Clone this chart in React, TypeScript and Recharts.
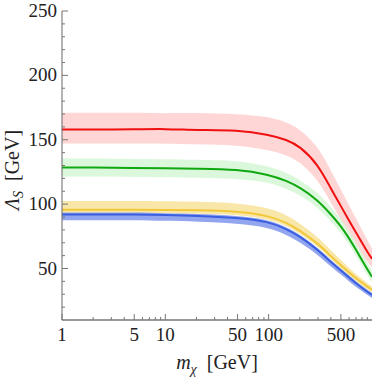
import React from "react";
import { ComposedChart, Area, Line, XAxis, YAxis } from "recharts";

// dark matter mass grid (GeV)
const masses = [1, 2, 5, 10, 20, 50, 100, 150, 200, 300, 400, 500, 600, 700, 800, 900, 1000];

const redMid = [158, 158, 158, 158.5, 157.5, 157.5, 154, 150, 145, 131, 112, 98.5, 87, 78, 70, 63, 57.5];
const redHi = [171, 171, 171, 170.5, 171, 170, 168, 163.5, 158.5, 145, 126, 111.5, 99, 89, 80, 72, 65.5];
const redLo = [147, 147, 147, 147, 146.5, 146, 142, 138, 133, 119, 101, 88, 77, 69, 61.5, 55, 51];

const greenMid = [128.5, 128.5, 128, 128, 127.5, 127, 123, 118, 113, 103, 92, 83, 73.5, 64.5, 56.5, 49.5, 43.5];
const greenHi = [135.5, 135.5, 135, 135, 134.5, 134, 129.5, 124.5, 119, 109, 98, 88.5, 79, 70, 61.5, 54.5, 48.5];
const greenLo = [121.5, 121.5, 121, 121, 120.5, 120, 117, 112, 107, 97.5, 86.5, 78, 68.5, 60, 52, 45, 39];

const yellowMid = [95.7, 95.7, 95.7, 95.5, 95.3, 94.5, 91, 85.5, 79.5, 69.5, 59.5, 52.5, 47, 42.5, 39, 36, 33.5];
const yellowHi = [102.5, 102.5, 102.5, 102.3, 102, 101, 97, 91.5, 85, 74.5, 64, 56.5, 50.5, 45.5, 42, 38.5, 36];
const yellowLo = [93, 93, 93, 92.8, 92.5, 91.8, 88.3, 83, 77, 67, 57, 50, 44.5, 40, 36.5, 33.5, 31];

const blueMid = [92, 92, 92, 91.5, 91, 89.5, 86.5, 80.5, 75, 64.5, 55, 48.5, 43, 38.5, 35, 32, 29.5];
const blueHi = [93.5, 93.5, 93.5, 93, 92.5, 91, 88, 82, 76.5, 66, 56.5, 50, 44.5, 40, 36.5, 33.5, 31];
const blueLo = [87.5, 87.5, 87.5, 87, 86.5, 85, 82, 76, 70.5, 60.5, 51.5, 45.5, 40, 35.5, 32.5, 29.5, 27];

const xMajor = [1, 5, 10, 50, 100, 500];
const xMinor = [2, 3, 4, 6, 7, 8, 9, 20, 30, 40, 60, 70, 80, 90, 200, 300, 400, 600, 700, 800, 900];
const yMajor = [50, 100, 150, 200, 250];
const yMinor = [20, 30, 40, 60, 70, 80, 90, 110, 120, 130, 140, 160, 170, 180, 190, 210, 220, 230, 240];

const data = masses.map((m, i) => ({
  m,
  red: redMid[i],
  redBand: [redLo[i], redHi[i]],
  green: greenMid[i],
  greenBand: [greenLo[i], greenHi[i]],
  yellow: yellowMid[i],
  yellowBand: [yellowLo[i], yellowHi[i]],
  blue: blueMid[i],
  blueBand: [blueLo[i], blueHi[i]],
}));

const serif = { fontFamily: "Liberation Serif" };
const TICK = "#777";

const makeTick = (side: "bottom" | "top" | "left" | "right", majors: number[], showLabel: boolean) =>
  (props: any) => {
    const { x, y, payload } = props;
    const major = majors.includes(payload.value);
    const len = major ? 6 : 3;
    let line;
    if (side === "bottom") line = <line x1={x} x2={x} y1={y} y2={y - len} stroke={TICK} />;
    else if (side === "top") line = <line x1={x} x2={x} y1={y} y2={y + len} stroke={TICK} />;
    else if (side === "left") line = <line x1={x} x2={x + len} y1={y} y2={y} stroke={TICK} />;
    else line = <line x1={x} x2={x - len} y1={y} y2={y} stroke={TICK} />;
    return (
      <g>
        {line}
        {showLabel && major && side === "bottom" && (
          <text x={x} y={y + 21} textAnchor="middle" style={serif} fontSize={19} fill="#222">
            {payload.value}
          </text>
        )}
        {showLabel && major && side === "left" && (
          <text x={x - 5} y={y + 6} textAnchor="end" style={serif} fontSize={19} fill="#222">
            {payload.value}
          </text>
        )}
      </g>
    );
  };

export default function App() {
  const xTicks = [...xMajor, ...xMinor].sort((a, b) => a - b);
  const yTicks = [...yMajor, ...yMinor].sort((a, b) => a - b);
  return (
    <div style={{ position: "absolute", left: 0, top: 0, width: 374, height: 380, background: "#fff" }}>
      <ComposedChart width={374} height={380} data={data} margin={{ top: 11, right: 2, bottom: 0, left: 0 }}>
        <XAxis
          dataKey="m"
          type="number"
          scale="log"
          domain={[1, 1000]}
          allowDataOverflow
          ticks={xTicks}
          interval={0}
          height={60}
          tickSize={0}
          tickMargin={0}
          tickLine={false}
          axisLine={{ stroke: "#333" }}
          tick={makeTick("bottom", xMajor, true)}
          label={{
            content: (p: any) => {
              const vb = p.viewBox;
              return (
                <text x={vb.x + vb.width / 2} y={vb.y + 49} textAnchor="middle" style={serif} fontSize={20} fill="#222">
                  <tspan fontStyle="italic">m</tspan>
                  <tspan fontStyle="italic" fontSize={14} dy={5}>χ</tspan>
                  <tspan dy={-5}>{"\u00a0\u00a0[GeV]"}</tspan>
                </text>
              );
            },
          }}
        />
        <XAxis
          xAxisId="top"
          orientation="top"
          dataKey="m"
          type="number"
          scale="log"
          domain={[1, 1000]}
          allowDataOverflow
          ticks={xTicks}
          interval={0}
          height={0}
          tickSize={0}
          tickMargin={0}
          tickLine={false}
          axisLine={{ stroke: "#999" }}
          tick={makeTick("top", xMajor, false)}
        />
        <YAxis
          type="number"
          domain={[10, 250]}
          allowDataOverflow
          ticks={yTicks}
          interval={0}
          width={62}
          tickSize={0}
          tickMargin={0}
          tickLine={false}
          axisLine={{ stroke: "#666" }}
          tick={makeTick("left", yMajor, true)}
          label={{
            content: () => (
              <text x={19} y={170} transform="rotate(-90, 19, 170)" textAnchor="middle" style={serif} fontSize={20} fill="#222">
                <tspan fontStyle="italic">Λ</tspan>
                <tspan fontStyle="italic" fontSize={14} dy={4}>S</tspan>
                <tspan dy={-4}>{"\u00a0\u00a0[GeV]"}</tspan>
              </text>
            ),
          }}
        />
        <YAxis
          yAxisId="right"
          orientation="right"
          type="number"
          domain={[10, 250]}
          allowDataOverflow
          ticks={yTicks}
          interval={0}
          width={0}
          tickSize={0}
          tickMargin={0}
          tickLine={false}
          axisLine={{ stroke: "#222" }}
          tick={makeTick("right", yMajor, false)}
        />
        <Area dataKey="redBand" type="basis" stroke="none" fill="#ffcfcf" fillOpacity={0.85} isAnimationActive={false} />
        <Area dataKey="greenBand" type="basis" stroke="none" fill="#d6f7d6" fillOpacity={0.85} isAnimationActive={false} />
        <Area dataKey="yellowBand" type="basis" stroke="none" fill="#f7e39a" fillOpacity={0.85} isAnimationActive={false} />
        <Area dataKey="blueBand" type="basis" stroke="none" fill="#7f95ec" fillOpacity={0.85} isAnimationActive={false} />
        <Line dataKey="red" type="basis" stroke="#f01010" strokeWidth={2} dot={false} isAnimationActive={false} />
        <Line dataKey="green" type="basis" stroke="#10a810" strokeWidth={2} dot={false} isAnimationActive={false} />
        <Line dataKey="yellow" type="basis" stroke="#f2c83a" strokeWidth={2} dot={false} isAnimationActive={false} />
        <Line dataKey="blue" type="basis" stroke="#3a5ee0" strokeWidth={2} dot={false} isAnimationActive={false} />
      </ComposedChart>
    </div>
  );
}
